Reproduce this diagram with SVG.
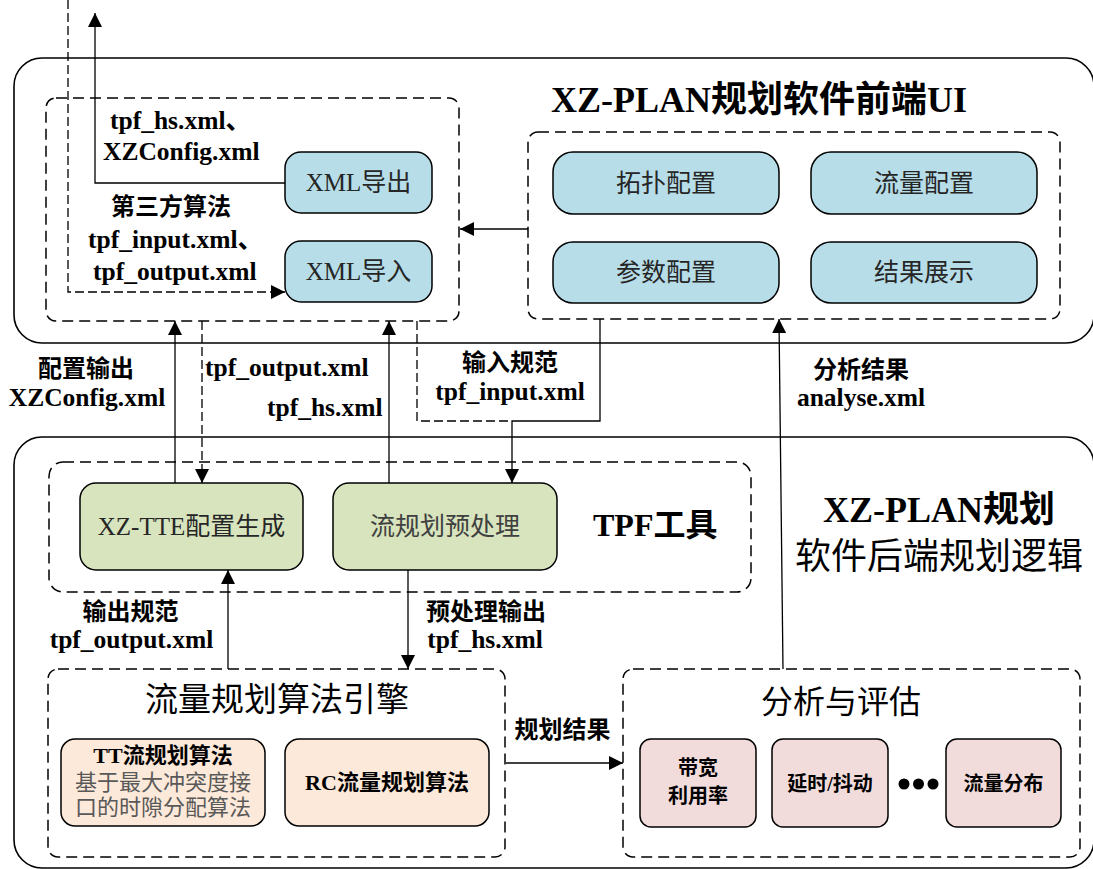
<svg xmlns="http://www.w3.org/2000/svg" width="1093" height="869" viewBox="0 0 1093 869">
<defs>
<marker id="ah" markerUnits="userSpaceOnUse" markerWidth="16" markerHeight="16" refX="14" refY="7" orient="auto"><path d="M0,0 L14,7 L0,14 z" fill="#000"/></marker>
<style>
.outer{fill:none;stroke:#000;stroke-width:1.6}
.dbox{fill:none;stroke:#000;stroke-width:1.5;stroke-dasharray:11 6}
.blue{fill:#b7dde8;stroke:#000;stroke-width:1.5}
.green{fill:#d7e4bd;stroke:#000;stroke-width:1.5}
.peach{fill:#fde9d9;stroke:#000;stroke-width:1.5}
.pink{fill:#f2dcdb;stroke:#000;stroke-width:1.5}
.ln{fill:none;stroke:#000;stroke-width:1.3}
.dl{fill:none;stroke:#000;stroke-width:1.3;stroke-dasharray:9 4}
text{font-family:'Liberation Serif','Noto Sans CJK SC',serif;fill:#000}
.b{font-weight:bold;font-size:24px}
.bl{font-weight:bold;font-size:25.5px}
.r{font-size:25px;fill:#262626}
.m{text-anchor:middle}
</style>
</defs>
<g id="frontend">
<rect class="outer" x="14" y="58" width="1080" height="285" rx="28"/>
<text class="b" x="551" y="112" style="font-size:36px">XZ-PLAN规划软件前端UI</text>
</g>
<g id="backend">
<rect class="outer" x="14" y="437" width="1080" height="431" rx="28"/>
<text class="m" x="939" y="522" style="font-size:36px;font-weight:bold">XZ-PLAN规划</text>
<text class="m" x="939" y="569" style="font-size:36px">软件后端规划逻辑</text>
</g>
<g id="xmlgroup">
<rect class="dbox" x="46" y="98" width="413" height="223" rx="10"/>
<text class="bl" x="110" y="129">tpf_hs.xml、</text>
<text class="bl" x="103" y="160">XZConfig.xml</text>
<text class="b" x="111" y="215">第三方算法</text>
<text class="bl" x="88" y="248">tpf_input.xml、</text>
<text class="bl" x="93" y="280">tpf_output.xml</text>
</g>
<g id="xml-export">
<rect class="blue" x="285" y="152" width="147" height="61" rx="16"/>
<text class="r m" x="358.5" y="191">XML导出</text>
</g>
<g id="xml-import">
<rect class="blue" x="285" y="241" width="147" height="61" rx="16"/>
<text class="r m" x="358.5" y="280">XML导入</text>
</g>
<g id="ui-config">
<rect class="dbox" x="528" y="132" width="532" height="187" rx="10"/>
</g>
<g id="topo">
<rect class="blue" x="553" y="152" width="226" height="62" rx="20"/>
<text class="r m" x="666" y="192">拓扑配置</text>
</g>
<g id="flow">
<rect class="blue" x="811" y="152" width="226" height="62" rx="20"/>
<text class="r m" x="924" y="192">流量配置</text>
</g>
<g id="param">
<rect class="blue" x="553" y="242" width="226" height="61" rx="20"/>
<text class="r m" x="666" y="281">参数配置</text>
</g>
<g id="result">
<rect class="blue" x="811" y="242" width="226" height="61" rx="20"/>
<text class="r m" x="924" y="281">结果展示</text>
</g>
<g id="tpf">
<rect class="dbox" x="49" y="462" width="702" height="130" rx="14"/>
<text class="b" x="593" y="536" style="font-size:32px">TPF工具</text>
</g>
<g id="tte">
<rect class="green" x="80" y="483" width="223" height="87" rx="16"/>
<text class="r m" x="191.5" y="535">XZ-TTE配置生成</text>
</g>
<g id="preproc">
<rect class="green" x="333" y="483" width="224" height="87" rx="16"/>
<text class="r m" x="445" y="535" style="fill:#404040">流规划预处理</text>
</g>
<g id="engine">
<rect class="dbox" x="48" y="669" width="457" height="188" rx="10"/>
<text class="m" x="277" y="711" style="font-size:33px">流量规划算法引擎</text>
</g>
<g id="tt-algo">
<rect class="peach" x="61" y="739" width="204" height="87" rx="14"/>
<text class="m" x="163" y="763" style="font-size:22px;font-weight:bold">TT流规划算法</text>
<text class="m" x="163" y="790" style="font-size:22px;fill:#595959">基于最大冲突度接</text>
<text class="m" x="163" y="815" style="font-size:22px;fill:#595959">口的时隙分配算法</text>
</g>
<g id="rc-algo">
<rect class="peach" x="285" y="739" width="204" height="87" rx="14"/>
<text class="m" x="387" y="790" style="font-size:22px;font-weight:bold">RC流量规划算法</text>
</g>
<g id="analysis">
<rect class="dbox" x="623" y="669" width="457" height="188" rx="10"/>
<text class="m" x="841" y="713" style="font-size:32px">分析与评估</text>
<circle cx="904" cy="784" r="5.5"/>
<circle cx="918.5" cy="784" r="5.5"/>
<circle cx="933" cy="784" r="5.5"/>
</g>
<g id="bandwidth">
<rect class="pink" x="640" y="739" width="116" height="88" rx="11"/>
<text class="m" x="698" y="775" style="font-size:20px;font-weight:bold">带宽</text>
<text class="m" x="698" y="803" style="font-size:20px;font-weight:bold">利用率</text>
</g>
<g id="delay">
<rect class="pink" x="772" y="739" width="116" height="88" rx="11"/>
<text class="m" x="830" y="791" style="font-size:20px;font-weight:bold">延时/抖动</text>
</g>
<g id="distribution">
<rect class="pink" x="946" y="739" width="115" height="88" rx="11"/>
<text class="m" x="1003.5" y="791" style="font-size:20px;font-weight:bold">流量分布</text>
</g>
<g id="connectors">
<path class="ln" d="M285,183 H95 V13" marker-end="url(#ah)"/>
<path class="dl" d="M68,0 V292 H285" marker-end="url(#ah)"/>
<path class="ln" d="M528,229 H460" marker-end="url(#ah)"/>
<path class="ln" d="M175,483 V321" marker-end="url(#ah)"/>
<path class="dl" d="M202,321 V483" marker-end="url(#ah)"/>
<path class="ln" d="M389,483 V321" marker-end="url(#ah)"/>
<path class="dl" d="M417,321 V421 H512"/>
<path class="ln" d="M600,319 V421 H512 V483" marker-end="url(#ah)"/>
<path class="ln" d="M783,669 L779,319" marker-end="url(#ah)"/>
<path class="ln" d="M228,669 V570" marker-end="url(#ah)"/>
<path class="ln" d="M408,570 V669" marker-end="url(#ah)"/>
<path class="ln" d="M506,763 H623" marker-end="url(#ah)"/>
<text class="b m" x="86" y="377">配置输出</text>
<text class="bl m" x="87" y="406">XZConfig.xml</text>
<text class="bl" x="205" y="376">tpf_output.xml</text>
<text class="bl" x="267" y="416">tpf_hs.xml</text>
<text class="b m" x="510" y="371">输入规范</text>
<text class="bl m" x="510" y="400">tpf_input.xml</text>
<text class="b m" x="861" y="378">分析结果</text>
<text class="bl m" x="861" y="406">analyse.xml</text>
<text class="b m" x="130.6" y="620">输出规范</text>
<text class="bl m" x="131.5" y="648">tpf_output.xml</text>
<text class="b m" x="486" y="620">预处理输出</text>
<text class="bl m" x="485" y="648">tpf_hs.xml</text>
<text class="b m" x="562.5" y="738">规划结果</text>
</g>
</svg>
